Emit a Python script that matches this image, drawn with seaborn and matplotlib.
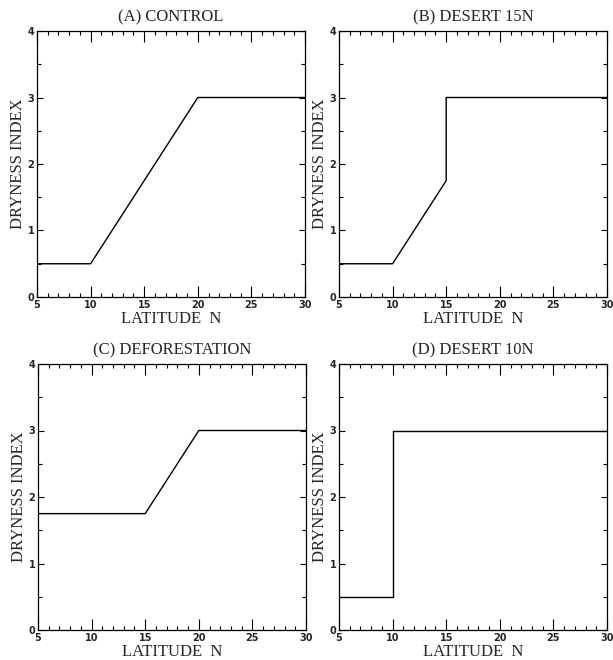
import matplotlib
matplotlib.use("Agg")
import matplotlib.pyplot as plt
import seaborn as sns
import pandas as pd
from matplotlib.ticker import MultipleLocator

sns.set_theme(style="white")

titles = ["(A) CONTROL", "(B) DESERT 15N", "(C) DEFORESTATION", "(D) DESERT 10N"]
lat_a = [5, 10, 20, 30]
dry_a = [0.5, 0.5, 3.0, 3.0]
lat_b = [5, 10, 15, 15, 30]
dry_b = [0.5, 0.5, 1.75, 3.0, 3.0]
lat_c = [5, 15, 20, 30]
dry_c = [1.75, 1.75, 3.0, 3.0]
lat_d = [5, 10, 10, 30]
dry_d = [0.5, 0.5, 3.0, 3.0]
xticks = [5, 10, 15, 20, 25, 30]
yticks = [0, 1, 2, 3, 4]

series = [(lat_a, dry_a), (lat_b, dry_b), (lat_c, dry_c), (lat_d, dry_d)]

W, H = 613, 660
fig = plt.figure(figsize=(W / 100, H / 100), dpi=100)
boxes = [(37, 31, 305, 297), (339, 31, 607, 297), (38, 364, 306, 630), (339, 364, 607, 630)]

serif = "Liberation Serif"
for (x0, y0, x1, y1), title, (lx, ly) in zip(boxes, titles, series):
    ax = fig.add_axes([x0 / W, 1 - y1 / H, (x1 - x0) / W, (y1 - y0) / H])
    df = pd.DataFrame({"lat": lx, "dry": ly})
    sns.lineplot(data=df, x="lat", y="dry", sort=False, estimator=None, errorbar=None,
                 color="black", lw=1.0, ax=ax)
    ax.set_xlim(5, 30)
    ax.set_ylim(0, 4)
    ax.set_xticks(xticks)
    ax.set_yticks(yticks)
    ax.xaxis.set_minor_locator(MultipleLocator(1))
    ax.yaxis.set_minor_locator(MultipleLocator(0.5))
    ax.tick_params(which="both", direction="in", top=True, right=True, bottom=True, left=True,
                   color="black", width=0.8, labelsize=7, pad=2)
    ax.tick_params(axis="x", which="major", length=8)
    ax.tick_params(axis="x", which="minor", length=3)
    ax.tick_params(axis="y", which="major", length=4)
    ax.tick_params(axis="y", which="minor", length=3)
    for lab in ax.get_xticklabels() + ax.get_yticklabels():
        lab.set_fontweight("bold")
        lab.set_family("DejaVu Sans")
    for sp in ax.spines.values():
        sp.set_color("black")
        sp.set_linewidth(0.9)
    ax.set_title(title, family=serif, fontsize=12, pad=7)
    ax.set_xlabel("LATITUDE  N", family=serif, fontsize=12, labelpad=1)
    ax.set_ylabel("DRYNESS INDEX", family=serif, fontsize=12, labelpad=1)

fig.savefig("out.png", dpi=100, facecolor="white")
